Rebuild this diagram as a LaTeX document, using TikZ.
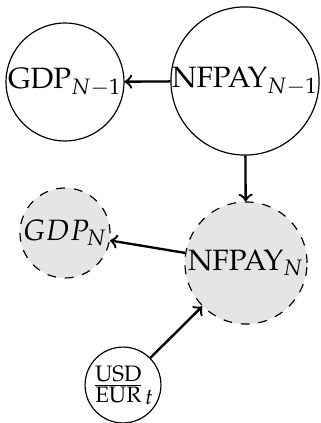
\documentclass[tikz,border=0pt]{standalone}
\usepackage{mathpazo}
\begin{document}
\begin{tikzpicture}[x=0.34pt,y=-0.34pt,
  var/.style={circle,draw,thin,inner sep=0pt,font=\normalsize},
  hid/.style={var,dashed,fill=gray!20},
  arr/.style={->,thick}]
\useasboundingbox (0,0) rectangle (321,423);
\node[var,minimum size=40.1pt] (g1) at (65,82) {$\mathrm{GDP}_{N-1}$};
\node[var,minimum size=49.6pt] (n1) at (245,81) {$\mathrm{NFPAY}_{N-1}$};
\node[hid,minimum size=30.6pt] (g2) at (65,233) {$GDP_N$};
\node[hid,minimum size=41.5pt] (n2) at (246,263) {$\mathrm{NFPAY}_N$};
\node[var,minimum size=25.8pt] (u) at (123,385) {$\frac{\mathrm{USD}}{\mathrm{EUR}}_t$};
\draw[arr] (n1) -- (g1);
\draw[arr] (n1) -- (n2);
\draw[arr] (n2) -- (g2);
\draw[arr] (u) -- (n2);
\end{tikzpicture}
\end{document}
